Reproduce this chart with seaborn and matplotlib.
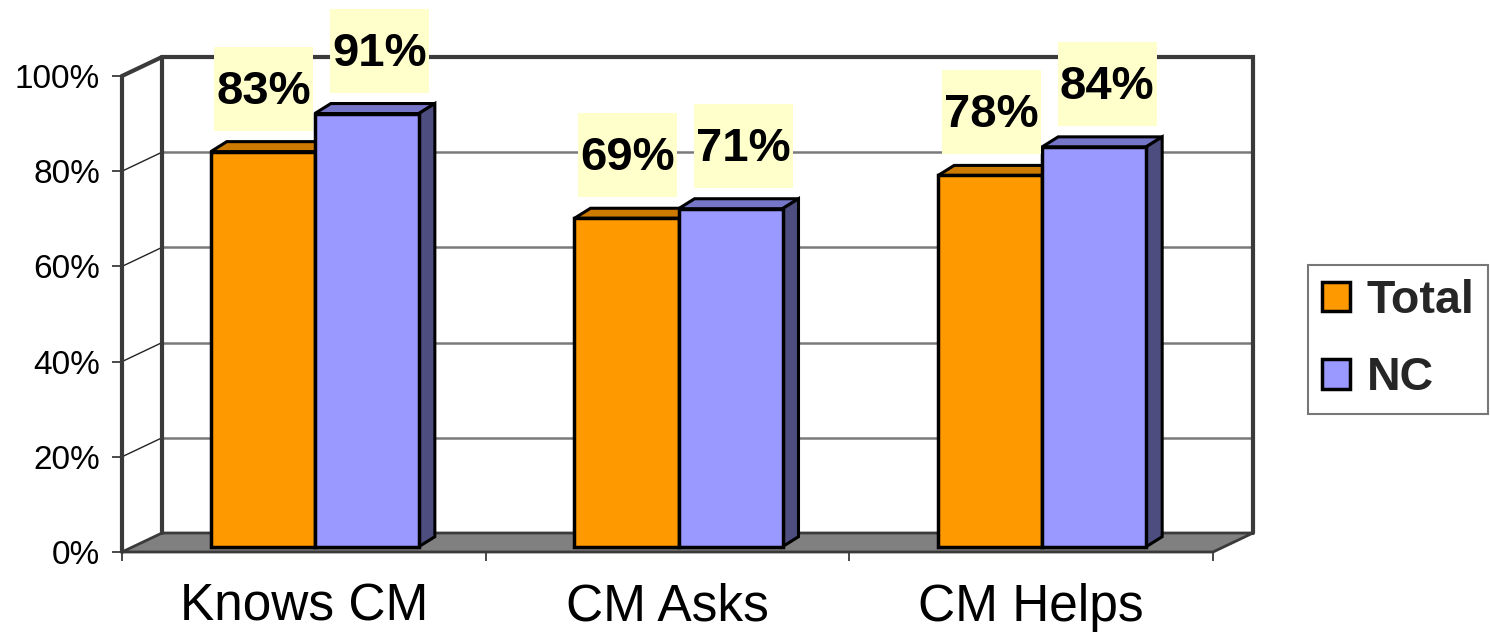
import matplotlib
matplotlib.use("Agg")
import matplotlib.pyplot as plt
import numpy as np
import pandas as pd
import seaborn as sns
from matplotlib.patches import Polygon, Rectangle
from matplotlib.transforms import ScaledTranslation

# ---- data ----
categories = ["Knows CM", "CM Asks", "CM Helps"]
series = ["Total", "NC"]
total_values = [83, 69, 78]
nc_values = [91, 71, 84]
y_ticks = [0, 20, 40, 60, 80, 100]
y_tick_labels = ["0%", "20%", "40%", "60%", "80%", "100%"]

face_colors = {"Total": "#FF9900", "NC": "#9999FF"}
top_colors = {"Total": "#CC7A00", "NC": "#7676C8"}
side_colors = {"Total": "#B36B00", "NC": "#4D4D80"}

df = pd.DataFrame({
    "category": categories * 2,
    "series": ["Total"] * len(categories) + ["NC"] * len(categories),
    "value": total_values + nc_values,
})

sns.set_theme(style="white")
plt.rcParams["font.family"] = ["Liberation Sans", "DejaVu Sans"]

W, H = 1490, 636
fig = plt.figure(figsize=(W / 100, H / 100), dpi=100)
fig.patch.set_facecolor("white")

# front plane of the 3-D box, in pixels
x0_px, x1_px, y0_px, y1_px = 122, 1213, 552, 76
ax = fig.add_axes([x0_px / W, 1 - y0_px / H, (x1_px - x0_px) / W, (y0_px - y1_px) / H])
ax.set_xlim(-0.5, 2.5)
ax.set_ylim(0, 100)
ax.patch.set_alpha(0)
for s in ax.spines.values():
    s.set_visible(False)

px_x = (x1_px - x0_px) / 3.0
px_y = (y0_px - y1_px) / 100.0


def to_data(dx, dy):
    return dx / px_x, dy / px_y


Dx, Dy = to_data(40, 19)      # depth of the box (back wall offset)
Bx_px, By_px = 11, 5.3        # bar front faces sit a little inside the box
Sx, Sy = to_data(16, 10)      # depth of each bar

edge = "#3a3a3a"
xl, xr = -0.5, 2.5

# floor
ax.add_patch(Polygon([(xl, 0), (xr, 0), (xr + Dx, Dy), (xl + Dx, Dy)], closed=True,
                     facecolor="#808080", edgecolor=edge, lw=2, zorder=1, clip_on=False))
# back wall gridlines and left wall gridlines
for v in y_ticks[1:-1]:
    ax.plot([xl + Dx, xr + Dx], [v + Dy, v + Dy], color="#7a7a7a", lw=1.8, zorder=1, clip_on=False)
    ax.plot([xl, xl + Dx], [v, v + Dy], color="#222222", lw=1.0, zorder=1, clip_on=False)
# box edges
ax.plot([xl + Dx, xr + Dx, xr + Dx], [100 + Dy, 100 + Dy, Dy], color=edge, lw=3, zorder=1.5,
        clip_on=False, solid_joinstyle="miter")
ax.plot([xl + Dx, xl + Dx], [Dy, 100 + Dy], color=edge, lw=3, zorder=1.5, clip_on=False)
ax.plot([xl, xl + Dx], [100, 100 + Dy], color=edge, lw=3, zorder=1.5, clip_on=False)
ax.plot([xl, xl], [0, 100], color=edge, lw=3, zorder=1.5, clip_on=False)

# bars
sns.barplot(data=df, x="category", y="value", hue="series", hue_order=series,
            palette=face_colors, width=0.572, edgecolor="black", linewidth=2.5,
            saturation=1, ax=ax)

leg = ax.get_legend()
handles = list(leg.legend_handles)
labels = [t.get_text() for t in leg.get_texts()]
leg.remove()

shift = ax.transData + ScaledTranslation(Bx_px / 100, By_px / 100, fig.dpi_scale_trans)
label_dx = {"Total": 1, "NC": 13}
box_w, box_h = to_data(99, 84)
lab_up = 63 / px_y

for k, (name, cont) in enumerate(zip(series, ax.containers)):
    base_z = 3 + 0.2 * k
    for bar in cont:
        x, w, h = bar.get_x(), bar.get_width(), bar.get_height()
        bar.set_transform(shift)
        bar.set_zorder(base_z + 0.1)
        bar.set_joinstyle("miter")
        top = Polygon([(x, h), (x + w, h), (x + w + Sx, h + Sy), (x + Sx, h + Sy)], closed=True,
                      facecolor=top_colors[name], edgecolor="black", lw=2.2, joinstyle="miter",
                      transform=shift, zorder=base_z, clip_on=False)
        side = Polygon([(x + w, 0), (x + w + Sx, Sy), (x + w + Sx, h + Sy), (x + w, h)], closed=True,
                       facecolor=side_colors[name], edgecolor="black", lw=2.2, joinstyle="miter",
                       transform=shift, zorder=base_z, clip_on=False)
        ax.add_patch(top)
        ax.add_patch(side)

        # value label on a pale box
        cx = x + w / 2 + Bx_px / px_x + label_dx[name] / px_x
        cy = h + By_px / px_y + lab_up
        ax.add_patch(Rectangle((cx - box_w / 2, cy - box_h / 2), box_w, box_h,
                               facecolor="#FFFFCC", edgecolor="none", zorder=6, clip_on=False))
        ax.text(cx, cy - 15 / px_y, f"{h:.0f}%", ha="center", va="baseline",
                fontsize=34, fontweight="bold", color="black", zorder=7, clip_on=False)

# axes ticks
ax.set_xlabel("")
ax.set_ylabel("")
ax.set_yticks(y_ticks, y_tick_labels)
ax.tick_params(axis="y", which="major", left=True, direction="out", length=7.2, width=1.3,
               color=edge, labelsize=24, pad=8.5, labelcolor="black")
ax.set_xticks([-0.5, 0.5, 1.5, 2.5], ["", "", "", ""])
ax.set_xticks([0, 1, 2], categories, minor=True)
ax.tick_params(axis="x", which="major", bottom=True, direction="out", length=6.5, width=1.3,
               color=edge)
ax.tick_params(axis="x", which="minor", bottom=True, length=0, labelsize=37, pad=22,
               labelcolor="black")

# legend
new_leg = fig.legend(handles, labels, loc="upper left", bbox_to_anchor=(1308 / W, 1 - 265 / H),
                     borderaxespad=0, frameon=True, fancybox=False, shadow=False,
                     prop={"weight": "bold", "size": 33.5}, handlelength=0.6, handleheight=0.6,
                     handletextpad=0.36, borderpad=0.3, labelspacing=0.72)
new_leg.get_frame().set_edgecolor("#555555")
new_leg.get_frame().set_linewidth(1.5)
for hd, name in zip(new_leg.legend_handles, series):
    hd.set_facecolor(face_colors[name])
    hd.set_edgecolor("black")
    hd.set_linewidth(2.5)

fig.savefig("out.png", dpi=100, facecolor="white")
